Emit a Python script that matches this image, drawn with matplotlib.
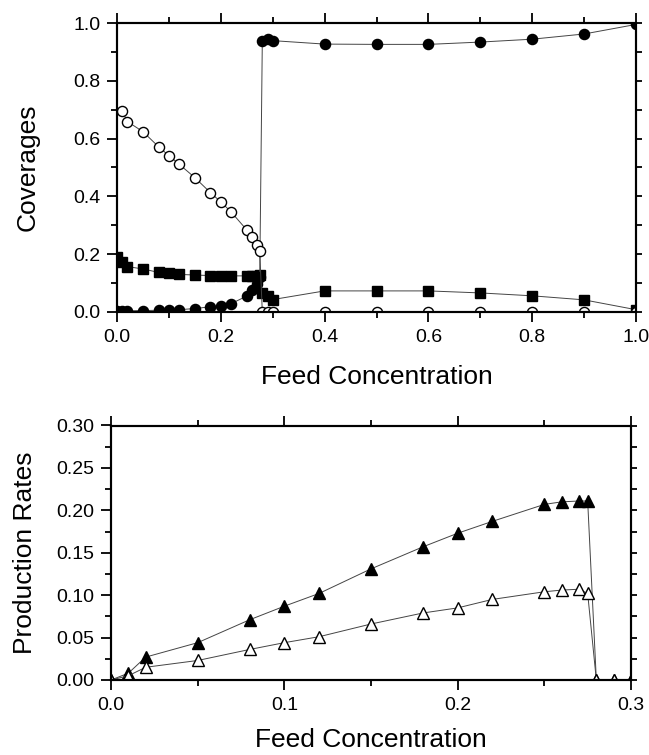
import matplotlib
matplotlib.use("Agg")
import matplotlib.pyplot as plt
from matplotlib.ticker import MultipleLocator, FormatStrFormatter

plt.rcParams['font.family'] = ['Liberation Sans', 'DejaVu Sans']

# ---------------- Top panel data (Coverages) ----------------
x_filled_circ = [0.0, 0.01, 0.02, 0.05, 0.08, 0.10, 0.12, 0.15, 0.18, 0.20, 0.22,
                 0.25, 0.26, 0.27, 0.275, 0.28, 0.29, 0.30,
                 0.4, 0.5, 0.6, 0.7, 0.8, 0.9, 1.0]
y_filled_circ = [0.004, 0.004, 0.004, 0.005, 0.006, 0.007, 0.008, 0.012, 0.018, 0.022, 0.029,
                 0.055, 0.076, 0.098, 0.12, 0.939, 0.946, 0.939,
                 0.927, 0.926, 0.926, 0.934, 0.944, 0.962, 0.995]

x_open_circ = [0.01, 0.02, 0.05, 0.08, 0.10, 0.12, 0.15, 0.18, 0.20, 0.22,
               0.25, 0.26, 0.27, 0.275, 0.28, 0.29, 0.30,
               0.4, 0.5, 0.6, 0.7, 0.8, 0.9, 1.0]
y_open_circ = [0.695, 0.659, 0.624, 0.572, 0.541, 0.511, 0.465, 0.413, 0.381, 0.346,
               0.284, 0.261, 0.232, 0.210, 0.0, 0.0, 0.0,
               0.0, 0.0, 0.0, 0.0, 0.0, 0.0, 0.0]

x_square = [0.0, 0.01, 0.02, 0.05, 0.08, 0.10, 0.12, 0.15, 0.18, 0.20, 0.22,
            0.25, 0.26, 0.27, 0.275, 0.28, 0.29, 0.30,
            0.4, 0.5, 0.6, 0.7, 0.8, 0.9, 1.0]
y_square = [0.190, 0.174, 0.157, 0.149, 0.137, 0.134, 0.130, 0.128, 0.126, 0.125, 0.125,
            0.125, 0.125, 0.125, 0.127, 0.066, 0.054, 0.043,
            0.073, 0.073, 0.073, 0.066, 0.056, 0.042, 0.008]

# ---------------- Bottom panel data (Production Rates) ----------------
x_rate = [0.0, 0.01, 0.02, 0.05, 0.08, 0.10, 0.12, 0.15, 0.18, 0.20, 0.22,
          0.25, 0.26, 0.27, 0.275, 0.28, 0.29, 0.30]
y_rate_filled = [0.0, 0.008, 0.027, 0.044, 0.071, 0.087, 0.102, 0.131, 0.157, 0.173, 0.187,
                 0.207, 0.210, 0.211, 0.211, 0.0, 0.0, 0.0]
y_rate_open = [0.0, 0.005, 0.015, 0.023, 0.036, 0.044, 0.051, 0.066, 0.079, 0.085, 0.095,
               0.104, 0.106, 0.107, 0.102, 0.0, 0.0, 0.0]

line_kw = dict(color='#444444', lw=0.7)
W, H = 649, 755
fig = plt.figure(figsize=(W / 100, H / 100), dpi=100)

ax1 = fig.add_axes([117 / W, 1 - 312 / H, 519 / W, 289 / H])
ax2 = fig.add_axes([111 / W, 1 - 680 / H, 520 / W, 254.5 / H])

# top
ax1.plot(x_square, y_square, marker='s', ms=6.8, mfc='black', mec='black', **line_kw)
ax1.plot(x_filled_circ, y_filled_circ, marker='o', ms=7.3, mfc='black', mec='black', **line_kw)
ax1.plot(x_open_circ, y_open_circ, marker='o', ms=7.3, mfc='white', mec='black', mew=1.0, **line_kw)
ax1.set_xlim(0, 1.0)
ax1.set_ylim(0, 1.0)
ax1.xaxis.set_major_locator(MultipleLocator(0.2))
ax1.xaxis.set_minor_locator(MultipleLocator(0.1))
ax1.yaxis.set_major_locator(MultipleLocator(0.2))
ax1.yaxis.set_minor_locator(MultipleLocator(0.1))
ax1.xaxis.set_major_formatter(FormatStrFormatter('%.1f'))
ax1.yaxis.set_major_formatter(FormatStrFormatter('%.1f'))
ax1.set_xlabel('Feed Concentration', fontsize=19, labelpad=14)
ax1.set_ylabel('Coverages', fontsize=19, labelpad=24)

# bottom
ax2.plot(x_rate, y_rate_filled, marker='^', ms=8.5, mfc='black', mec='black', **line_kw)
ax2.plot(x_rate, y_rate_open, marker='^', ms=8.5, mfc='white', mec='black', mew=1.0, **line_kw)
ax2.set_xlim(0, 0.3)
ax2.set_ylim(0, 0.3)
ax2.xaxis.set_major_locator(MultipleLocator(0.1))
ax2.xaxis.set_minor_locator(MultipleLocator(0.05))
ax2.yaxis.set_major_locator(MultipleLocator(0.05))
ax2.yaxis.set_minor_locator(MultipleLocator(0.025))
ax2.xaxis.set_major_formatter(FormatStrFormatter('%.1f'))
ax2.yaxis.set_major_formatter(FormatStrFormatter('%.2f'))
ax2.set_xlabel('Feed Concentration', fontsize=19, labelpad=10)
ax2.set_ylabel('Production Rates', fontsize=19, labelpad=14)

for ax, rstep in ((ax1, 0.1), (ax2, 0.025)):
    for s in ax.spines.values():
        s.set_linewidth(1.5)
    ax.tick_params(which='both', direction='out', width=1.3, labelsize=14,
                   top=True, right=False, pad=5)
    ax.tick_params(which='major', length=7)
    ax.tick_params(which='minor', length=4)
    axr = ax.twinx()
    axr.set_ylim(ax.get_ylim())
    axr.yaxis.set_major_locator(MultipleLocator(rstep))
    axr.tick_params(axis='y', direction='out', length=4, width=1.3, labelright=False)
    for s in axr.spines.values():
        s.set_linewidth(1.5)

fig.savefig('out.png', dpi=100)
